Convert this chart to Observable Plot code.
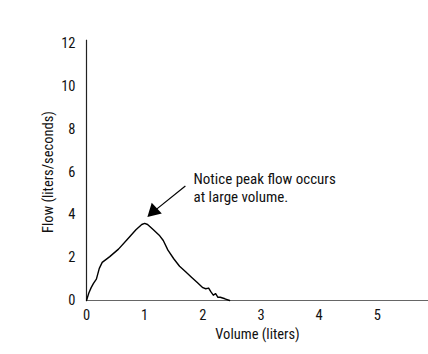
<!DOCTYPE html>
<html>
<head>
<meta charset="utf-8">
<script src="https://cdn.jsdelivr.net/npm/d3@7"></script>
<script src="https://cdn.jsdelivr.net/npm/@observablehq/plot@0.6"></script>
<style>
  html, body { margin: 0; padding: 0; background: #fff; }
  #chart svg { display: block; }
</style>
</head>
<body>
<div id="chart"></div>
<script>
const volume = [0, 0.04, 0.08, 0.12, 0.17, 0.22, 0.27, 0.4, 0.55, 0.7, 0.85, 0.95, 1.0, 1.05, 1.15, 1.25, 1.32, 1.4, 1.5, 1.6, 1.7, 1.8, 1.9, 2.0, 2.05, 2.1, 2.14, 2.18, 2.22, 2.26, 2.3, 2.38, 2.46];
const flow   = [0, 0.35, 0.6, 0.8, 1.0, 1.5, 1.78, 2.05, 2.4, 2.85, 3.3, 3.55, 3.6, 3.55, 3.3, 3.05, 2.8, 2.35, 1.95, 1.6, 1.35, 1.1, 0.85, 0.6, 0.55, 0.58, 0.4, 0.25, 0.32, 0.15, 0.15, 0.08, 0];
const xTicks = [0, 1, 2, 3, 4, 5];
const yTicks = [0, 2, 4, 6, 8, 10, 12];
const annotationText = "Notice peak flow occurs\nat large volume.";
const arrowFrom = {x: 1.70, y: 5.35};
const arrowTo = {x: 1.12, y: 4.08};
const textAt = {x: 1.84, y: 5.3};

const data = volume.map((v, i) => ({volume: v, flow: flow[i]}));
const font = "'Liberation Sans Narrow', 'Arial Narrow', 'Roboto Condensed', sans-serif";

const chart = Plot.plot({
  width: 428,
  height: 354,
  marginLeft: 86,
  marginRight: 0,
  marginTop: 43,
  marginBottom: 54,
  style: {fontFamily: font, fontSize: "14.5px", color: "#111", background: "#fff"},
  x: {domain: [0, 5.88], ticks: xTicks, tickFormat: "d", tickSize: 0, tickPadding: 9, label: "Volume (liters)", labelArrow: "none", labelAnchor: "center", labelOffset: 38},
  y: {domain: [0, 12], ticks: yTicks, tickFormat: "d", tickSize: 0, tickPadding: 11, label: "Flow (liters/seconds)", labelArrow: "none", labelAnchor: "center", labelOffset: 44},
  marks: [
    Plot.ruleY([0], {stroke: "#666", strokeWidth: 1.2}),
    Plot.ruleX([0], {y1: 0, y2: 12.15, stroke: "#222", strokeWidth: 1.2}),
    Plot.line(data, {x: "volume", y: "flow", stroke: "#000", strokeWidth: 1.4, curve: "linear"}),
    Plot.link([{x1: arrowFrom.x, y1: arrowFrom.y, x2: arrowTo.x, y2: arrowTo.y}], {x1: "x1", y1: "y1", x2: "x2", y2: "y2", stroke: "#000", strokeWidth: 1.2}),
    Plot.dot([arrowTo], {x: "x", y: "y", symbol: "triangle", r: 5.5, fill: "#000", stroke: "none", rotate: 227, dx: 2, dy: -2}),
    Plot.text([textAt], {x: "x", y: "y", text: () => annotationText, textAnchor: "start", lineAnchor: "middle", lineHeight: 1.2, fontSize: 15, fill: "#111"})
  ]
});
document.getElementById("chart").appendChild(chart);
</script>
</body>
</html>
